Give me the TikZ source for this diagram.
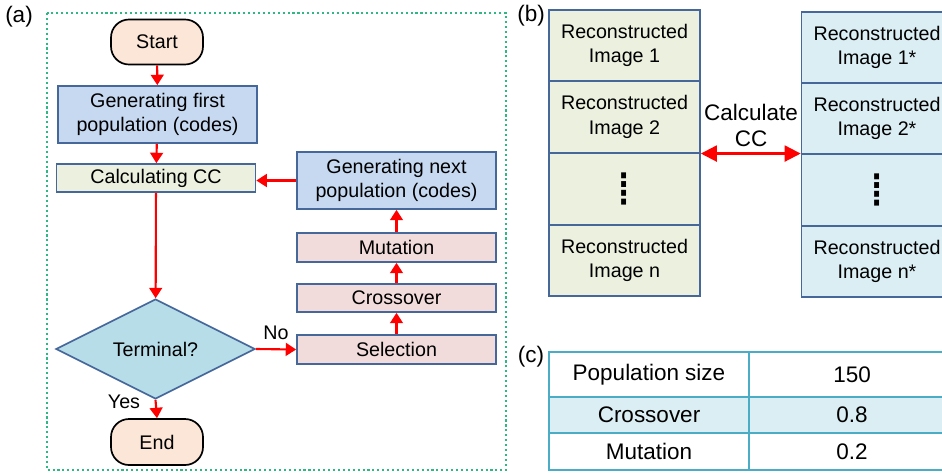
\documentclass[tikz,border=0pt]{standalone}
\usepackage{fontspec}
\setmainfont{Liberation Sans}
\newfontfamily\dejavu{DejaVu Sans}
\usetikzlibrary{arrows.meta,shapes.geometric}

\definecolor{peach}{HTML}{FCE6D8}
\definecolor{boxline}{HTML}{46679A}
\definecolor{bluebox}{HTML}{C6D9F1}
\definecolor{greenbox}{HTML}{EBF1DE}
\definecolor{pinkbox}{HTML}{F2DCDB}
\definecolor{diamondfill}{HTML}{B7DEE8}
\definecolor{lightblue}{HTML}{DBEEF4}
\definecolor{tabline}{HTML}{4BACC6}
\definecolor{tabrow}{HTML}{DAEEF3}
\definecolor{framegreen}{HTML}{30B884}

\begin{document}
\begin{tikzpicture}[x=0.25mm,y=-0.25mm,>={Triangle[length=2.6mm,width=3.2mm]},
    every node/.style={font=\fontsize{14}{17.5}\selectfont,align=center},
    box/.style={draw=boxline,line width=1.2pt,minimum width=49.75mm,inner sep=1pt},
    startend/.style={draw=black,line width=1.2pt,rounded corners=4.5mm,fill=peach,minimum width=23mm,minimum height=11.25mm},
    flow/.style={->,red,line width=1.5pt},
    cell/.style={draw=boxline,line width=1.2pt,minimum width=37.75mm,minimum height=17.85mm,inner sep=1pt},
    dotcell/.style={cell,font=\dejavu\fontsize{34}{34}\selectfont},
    tab/.style={draw=tabline,line width=1pt,font=\fontsize{16}{19}\selectfont,inner sep=0pt},
    plabel/.style={font=\fontsize{16}{19}\selectfont}]
        \useasboundingbox(0,0)rectangle(942,472);
        \clip(0,0)rectangle(942,472);
        % (a) flow chart
        \node[plabel] (la) at(19,17) {(a)};
        \draw[framegreen,dotted,line width=1.5pt](47,13)rectangle(506,470);
        \node[startend] (start) at(157,42) {Start};
        \node[box,fill=bluebox,minimum height=14.25mm] (gen1) at(157.5,114.5) {Generating first\\population (codes)};
        \node[box,fill=greenbox,minimum height=7mm] (calc) at(156,178) {Calculating CC};
        \node[box,fill=bluebox,minimum height=14.25mm] (gennext) at(396.5,180.5) {Generating next\\population (codes)};
        \node[box,fill=pinkbox,minimum height=7.25mm] (mut) at(396.5,247.5) {Mutation};
        \node[box,fill=pinkbox,minimum height=7mm] (cross) at(396.5,298) {Crossover};
        \node[box,fill=pinkbox,minimum height=7.25mm] (sel) at(396.5,349.5) {Selection};
        \node[diamond,draw=boxline,line width=1.2pt,fill=diamondfill,aspect=2,minimum width=49.75mm,minimum height=25mm,inner sep=0pt] (terminal) at(155.5,349) {Terminal?};
        \node[startend,minimum height=11.5mm] (endn) at(157,442) {End};
        \draw[flow](start)--(gen1);
        \draw[flow](gen1)--(calc);
        \draw[flow](calc)--(terminal);
        \draw[flow](terminal.east)--node[above=3pt,text=black]{No}(sel.west);
        \draw[flow](sel)--(cross);
        \draw[flow](cross)--(mut);
        \draw[flow](mut)--(gennext);
        \draw[flow](gennext.west)--(calc.east|-gennext.west);
        \draw[flow](terminal.south)--node[pos=0.1,left=7pt,text=black]{Yes}(endn.north);
        % (b) reconstructed images
        \node[plabel] (lb) at(531,16) {(b)};
        \node[cell,fill=greenbox] (l1) at(624.5,45.5) {Reconstructed\\Image 1};
        \node[cell,fill=greenbox] (l2) at(624.5,117) {Reconstructed\\Image 2};
        \node[dotcell,fill=greenbox] (l3) at(624.5,189) {⁞};
        \node[cell,fill=greenbox] (l4) at(624.5,260.5) {Reconstructed\\Image n};
        \node[cell,fill=lightblue] (r1) at(877,47.5) {Reconstructed\\Image 1*};
        \node[cell,fill=lightblue] (r2) at(877,118.5) {Reconstructed\\Image 2*};
        \node[dotcell,fill=lightblue] (r3) at(877,190) {⁞};
        \node[cell,fill=lightblue] (r4) at(877,261.5) {Reconstructed\\Image n*};
        \draw[<->,red,line width=1.5pt,>={Triangle[length=4mm,width=4mm]}](l2.south east)--(l2.south east-|r2.west);
        \node[font=\fontsize{16}{18.5}\selectfont] (cclabel) at(751,125) {Calculate\\CC};
        % (c) parameters
        \node[plabel] (lc) at(531,357) {(c)};
        \node[tab,minimum width=50mm,minimum height=11.25mm] (tpop) at(649,374.5) {Population size};
        \node[tab,minimum width=51.5mm,minimum height=11.25mm] (tpopv) at(852,374.5) {150};
        \node[tab,fill=tabrow,minimum width=50mm,minimum height=9mm] (tcross) at(649,415) {Crossover};
        \node[tab,fill=tabrow,minimum width=51.5mm,minimum height=9mm] (tcrossv) at(852,415) {0.8};
        \node[tab,minimum width=50mm,minimum height=9.25mm] (tmut) at(649,451.5) {Mutation};
        \node[tab,minimum width=51.5mm,minimum height=9.25mm] (tmutv) at(852,451.5) {0.2};
\end{tikzpicture}
\end{document}
